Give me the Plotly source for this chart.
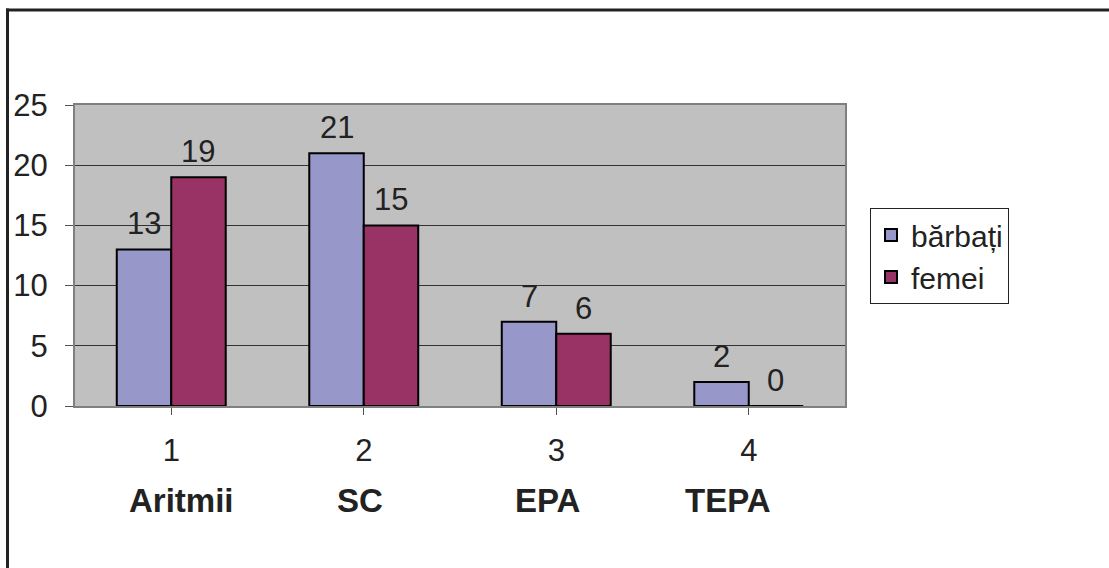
import plotly.graph_objects as go

categories = [1, 2, 3, 4]
category_names = ["Aritmii", "SC", "EPA", "TEPA"]
barbati = [13, 21, 7, 2]
femei = [19, 15, 6, 0]
series_names = ["bărbați", "femei"]
y_ticks = [0, 5, 10, 15, 20, 25]

FONT = "Liberation Sans, Arial, sans-serif"
TXT = "#222222"
W, H = 1109, 568
PLOT_L, PLOT_R, PLOT_T, PLOT_B = 75, 845, 105, 406  # reference pixels
L, T = PLOT_L, PLOT_T
R, B = W - PLOT_R, H - PLOT_B
PW, PH = W - L - R, H - T - B
BARGAP = 0.434

def px2x(px):
    return (px - L) / PW

def py2y(py):
    return (H - B - py) / PH

name_xshift = [10, -4, -9, -21]
bar_px = PW / len(categories) * (1 - BARGAP) / 2

fig = go.Figure()
series = [(series_names[0], barbati, "#9797CA"), (series_names[1], femei, "#993366")]
annotations = []
for i, (name, vals, col) in enumerate(series):
    fig.add_trace(go.Bar(
        x=categories, y=vals, name=name,
        marker=dict(color=col, line=dict(color="#000000", width=2)),
        cliponaxis=False, hoverinfo="skip",
    ))
    shift = (-0.5 if i == 0 else 0.5) * bar_px
    for c, v in zip(categories, vals):
        annotations.append(dict(
            x=c, y=v, xref="x", yref="y", text=str(v), showarrow=False,
            xshift=shift, yshift=6, yanchor="bottom",
            font=dict(family=FONT, size=31, color=TXT),
        ))

for c, n, dx in zip(categories, category_names, name_xshift):
    annotations.append(dict(
        x=c, y=py2y(500), xref="x", yref="paper", text="<b>" + n + "</b>",
        showarrow=False, xshift=dx, yanchor="middle",
        font=dict(family=FONT, size=33, color=TXT),
    ))

shapes = [
    dict(type="line", xref="paper", yref="paper", x0=px2x(6), x1=px2x(1115),
         y0=py2y(10), y1=py2y(10), line=dict(color="#222222", width=3)),
    dict(type="line", xref="paper", yref="paper", x0=px2x(7.5), x1=px2x(7.5),
         y0=py2y(8.5), y1=py2y(575), line=dict(color="#222222", width=3)),
]

fig.update_layout(
    width=W, height=H,
    margin=dict(l=L, r=R, t=T, b=B, pad=0),
    paper_bgcolor="white", plot_bgcolor="#C0C0C0",
    barmode="group", bargap=BARGAP, bargroupgap=0,
    font=dict(family=FONT, size=31, color=TXT),
    showlegend=True,
    legend=dict(x=px2x(870), y=py2y(208), xanchor="left", yanchor="top",
                bgcolor="white", bordercolor="#222222", borderwidth=1,
                font=dict(family=FONT, size=30, color=TXT),
                itemsizing="constant", tracegroupgap=0),
    xaxis=dict(
        tickmode="array", tickvals=categories, ticktext=[str(c) for c in categories],
        range=[0.5, 4.5], tickson="boundaries", ticks="outside", ticklen=7,
        tickcolor="#555555", showline=True, linecolor="#808080", linewidth=2,
        mirror=True, showgrid=False, zeroline=False,
        ticklabelstandoff=9,
        tickfont=dict(family=FONT, size=31, color=TXT),
    ),
    yaxis=dict(
        range=[0, 25], tickmode="array", tickvals=y_ticks,
        ticks="outside", ticklen=8, tickcolor="#555555",
        showline=True, linecolor="#808080", linewidth=2, mirror=True,
        showgrid=True, gridcolor="#333333", gridwidth=1, zeroline=False,
        ticklabelstandoff=11,
        tickfont=dict(family=FONT, size=31, color=TXT),
    ),
    annotations=annotations,
    shapes=shapes,
)

fig.write_html(
    "out.html",
    config={"displayModeBar": False},
    post_script="document.body.style.margin='0px';document.body.style.overflow='hidden';",
)
